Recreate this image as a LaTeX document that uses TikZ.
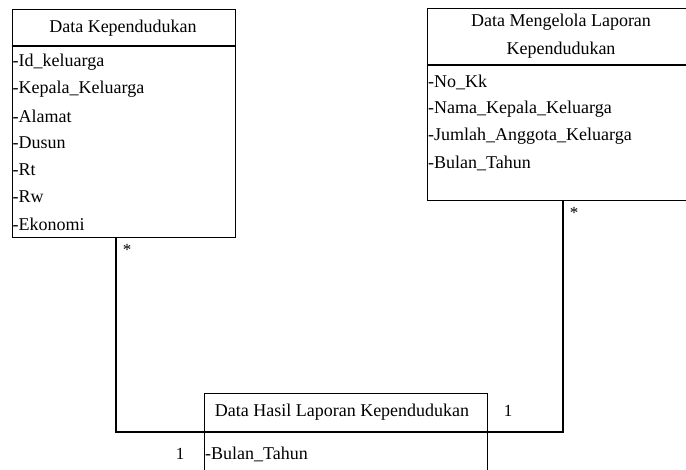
\documentclass[tikz,border=0pt]{standalone}
\usepackage{fontspec}
\setmainfont{Liberation Serif}
\usetikzlibrary{calc}
\begin{document}
\begin{tikzpicture}[x=1pt,y=-1pt,
  cls/.style={draw, line width=1.1pt, inner sep=0pt, anchor=north west},
  txt/.style={font=\fontsize{18}{21}\selectfont, inner sep=0pt},
  attr/.style={txt, anchor=west},
  mult/.style={font=\fontsize{17}{20}\selectfont, inner sep=0pt},
  link/.style={draw, line width=1.1pt}]
\useasboundingbox (0,0) rectangle (686,469);
\begin{scope}
\clip (0,0) rectangle (686,469);

% class boxes
\node[cls, minimum width=223.5pt, minimum height=228pt] (kep) at (11.5,9) {};
\node[cls, minimum width=268pt, minimum height=192pt] (mgl) at (427,8) {};
\node[cls, minimum width=283pt, minimum height=90pt] (hsl) at (204,393) {};

% header separators
\draw[line width=1.1pt] ($(kep.north west)+(0,37)$) -- ($(kep.north east)+(0,37)$);
\draw[line width=1.1pt] ($(mgl.north west)+(0,57)$) -- ($(mgl.north east)+(0,57)$);
\coordinate (hslL) at ($(hsl.north west)+(0,39)$);
\coordinate (hslR) at ($(hsl.north east)+(0,39)$);
\draw[line width=1.1pt] (hslL) -- (hslR);

% Data Kependudukan
\node[txt] (kepT) at (123,28) {Data Kependudukan};
\node[attr] (k1) at (12.5,62) {-Id\_keluarga};
\node[attr] (k2) at (12.5,89) {-Kepala\_Keluarga};
\node[attr] (k3) at (12.5,116) {-Alamat};
\node[attr] (k4) at (12.5,143) {-Dusun};
\node[attr] (k5) at (12.5,170) {-Rt};
\node[attr] (k6) at (12.5,197) {-Rw};
\node[attr] (k7) at (12.5,224) {-Ekonomi};

% Data Mengelola Laporan Kependudukan
\node[txt] (mglT1) at (561,22) {Data Mengelola Laporan};
\node[txt] (mglT2) at (561,50) {Kependudukan};
\node[attr] (m1) at (428,82) {-No\_Kk};
\node[attr] (m2) at (428,109) {-Nama\_Kepala\_Keluarga};
\node[attr] (m3) at (428,136) {-Jumlah\_Anggota\_Keluarga};
\node[attr] (m4) at (428,163) {-Bulan\_Tahun};

% Data Hasil Laporan Kependudukan
\node[txt] (hslT) at (342,412) {Data Hasil Laporan Kependudukan};
\node[attr] (h1) at (205,454) {-Bulan\_Tahun};

% associations
\draw[link] ($(kep.south west)+(104.5,0)$) |- (hslL);
\draw[link] ($(mgl.south west)+(136,0)$) |- (hslR);

% multiplicities
\node[mult] (s1) at (127,250) {*};
\node[mult] (s2) at (574,213) {*};
\node[mult] (o1) at (508,411) {1};
\node[mult] (o2) at (180,454) {1};
\end{scope}
\end{tikzpicture}
\end{document}
